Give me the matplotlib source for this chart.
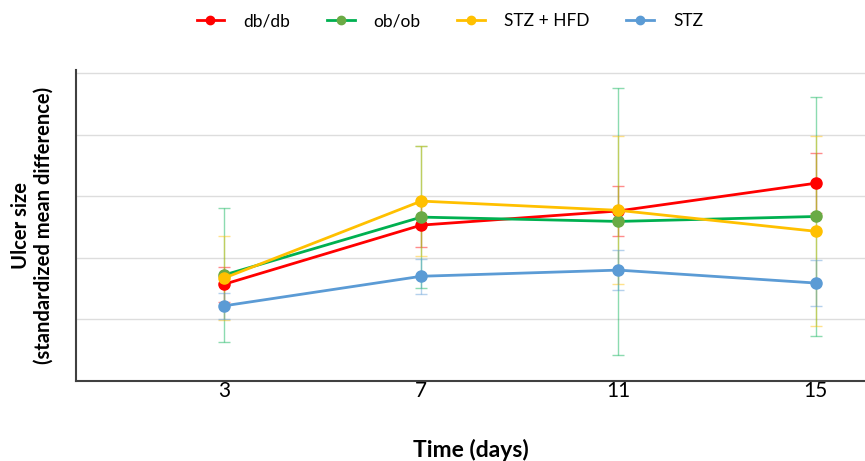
import matplotlib
matplotlib.use('Agg')
import matplotlib.pyplot as plt

# values (standardized mean difference, arbitrary units)
days = [3, 7, 11, 15]
groups = ['db/db', 'ob/ob', 'STZ + HFD', 'STZ']

db_mean = [1.57, 2.53, 2.76, 3.21]
db_err = [0.28, 0.36, 0.41, 0.49]
ob_mean = [1.72, 2.66, 2.59, 2.67]
ob_err = [1.09, 1.15, 2.16, 1.94]
hfd_mean = [1.67, 2.92, 2.77, 2.43]
hfd_err = [0.68, 0.89, 1.20, 1.54]
stz_mean = [1.22, 1.70, 1.80, 1.59]
stz_err = [0.21, 0.28, 0.32, 0.37]

plt.rcParams['font.family'] = ['Lato', 'DejaVu Sans']

series = [
    (db_mean, db_err, '#FF0000', '#FF0000'),
    (ob_mean, ob_err, '#00B050', '#6AAA45'),
    (hfd_mean, hfd_err, '#FFC000', '#FFC000'),
    (stz_mean, stz_err, '#5B9BD5', '#5B9BD5'),
]

fig = plt.figure(figsize=(8.65, 4.61), dpi=100)
ax = fig.add_axes([0.088, 0.1735, 0.912, 0.675])

# error bars first, drawn faint underneath the lines
for (mean, err, lc, mc), name in zip(series, groups):
    ax.errorbar(days, mean, yerr=err, fmt='none', ecolor=lc, elinewidth=1,
                capsize=4, capthick=1, alpha=0.45, zorder=2)

handles = []
for (mean, err, lc, mc), name in zip(series, groups):
    h, = ax.plot(days, mean, color=lc, lw=2, marker='o', markersize=8,
                 markerfacecolor=mc, markeredgecolor=mc, label=name, zorder=3)
    handles.append(h)

ax.set_xlim(0, 16)
ax.set_ylim(0, 5.05)
ax.set_xticks(days)
ax.set_yticks([1, 2, 3, 4, 5])
ax.set_yticklabels([])
ax.tick_params(axis='both', length=0, labelsize=15, pad=0)
ax.grid(True, axis='y', color='#DDDDDD', lw=1)
ax.set_axisbelow(True)

for side in ['top', 'right']:
    ax.spines[side].set_visible(False)
ax.spines['left'].set_color('#404040')
ax.spines['bottom'].set_color('#404040')
ax.spines['left'].set_linewidth(1.5)
ax.spines['bottom'].set_linewidth(1.5)

ax.set_xlabel('Time (days)', fontsize=16.5, fontweight='bold', labelpad=27)
ax.set_ylabel('Ulcer size\n(standardized mean difference)', fontsize=14.5,
              fontweight='bold', labelpad=16)

fig.legend(handles=handles, loc='upper center', bbox_to_anchor=(0.52, 1.005),
           ncol=4, frameon=False, fontsize=12.5, handlelength=1.6,
           handletextpad=1.1, columnspacing=2.1, markerscale=0.75)

fig.savefig('out.png', dpi=100)
